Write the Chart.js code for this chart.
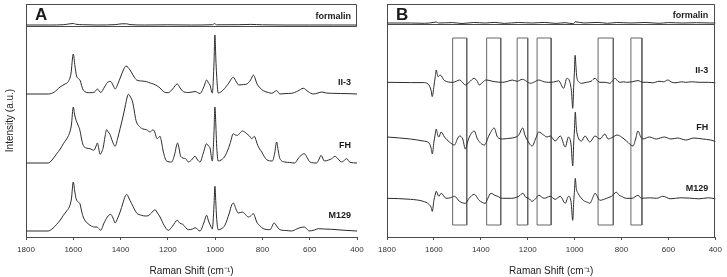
<!DOCTYPE html>
<html>
<head>
<meta charset="utf-8">
<script src="https://cdn.jsdelivr.net/npm/chart.js@4.4.0/dist/chart.umd.min.js"></script>
<style>
  html, body { margin: 0; padding: 0; background: #fff; }
  body { width: 727px; height: 277px; position: relative; overflow: hidden; }
  .panel { position: absolute; top: 0; height: 277px; }
  #wrap-a { left: 0; width: 370px; }
  #wrap-b { left: 360px; width: 367px; }
</style>
</head>
<body>
<div class="panel" id="wrap-a"><canvas id="chart-a" width="370" height="277"></canvas></div>
<div class="panel" id="wrap-b"><canvas id="chart-b" width="367" height="277"></canvas></div>
<script>
// --- Data: [Raman shift cm-1, intensity a.u.] ---

const X_TICKS = [1800, 1600, 1400, 1200, 1000, 800, 600, 400];
const SAMPLES = ['formalin', 'II-3', 'FH', 'M129'];

// panel A: raw spectra
const A_FORMALIN = [[1800,0],[1700,0],[1640,0.3],[1615,1.2],[1600,1.5],[1590,0.8],[1560,0.3],[1500,0],[1420,0.4],[1395,1.2],[1375,1.2],[1360,0.4],[1300,0],[1200,0.2],[1100,0],[1010,0.3],[1003,1.5],[995,0.2],[900,0.3],[850,0.6],[800,0.2],[700,0],[600,0],[500,0],[400,0]];

const A_II3 = [[1800,0],[1706,0],[1680,2],[1656,7],[1635,10],[1621,12.5],[1610,20],[1600,40],[1593,28],[1586,18],[1572,14],[1558,4],[1530,1.3],[1510,2],[1498,5],[1484,1.5],[1468,7],[1456,11.5],[1442,12.5],[1432,9],[1423,5],[1410,11],[1400,17],[1388,24],[1377,28],[1360,24],[1345,18],[1332,14],[1310,13],[1290,12.3],[1275,11],[1261,10],[1245,8],[1233,6],[1219,2.5],[1198,1.3],[1180,5],[1160,10],[1148,6],[1134,2.3],[1110,1.5],[1085,2.5],[1064,0.5],[1048,7],[1036,14],[1028,11],[1022,9],[1012,1],[1005,30],[1001,59],[997,35],[994,20],[987,1],[966,4],[945,10],[923,16.7],[910,12],[900,9],[880,9.5],[866,10],[850,14],[838,19],[830,15],[824,10.7],[810,6],[796,3.3],[775,1.5],[761,0.7],[740,3.3],[726,0],[700,0.5],[677,0.7],[650,3],[627,5.7],[606,2.3],[585,0],[565,1],[549,2],[530,1],[507,0.7],[470,0.5],[430,0.3],[400,0]];

const A_FH = [[1800,0],[1706,0],[1690,3],[1670,9.3],[1655,14],[1642,19.3],[1628,24],[1617,29.3],[1608,38],[1600,56],[1594,48],[1588,42.7],[1580,38],[1572,32.7],[1565,24],[1558,17.7],[1545,15],[1529,14.3],[1513,12.7],[1505,16],[1498,20],[1492,14],[1487,8.7],[1478,12],[1473,16],[1466,26],[1459,33.3],[1452,31],[1445,28.7],[1435,22],[1423,16.7],[1412,25],[1402,34.3],[1390,46],[1381,56],[1372,66],[1367,68.7],[1358,66],[1349,61],[1342,52],[1335,42.7],[1318,36],[1305,34],[1290,33.3],[1275,31],[1265,33],[1259,32.7],[1245,24.3],[1233,26.7],[1226,20],[1219,11],[1205,2],[1184,1],[1172,8],[1159,20],[1152,14],[1146,6.7],[1125,4.3],[1113,1],[1100,3],[1085,6.7],[1074,3],[1064,1],[1050,10],[1036,19.3],[1028,17],[1022,15.3],[1012,2],[1005,30],[1001,56],[997,38],[994,19.3],[987,2],[975,3],[961,6],[948,12],[937,19.3],[923,29.3],[915,28],[905,27.7],[895,30],[885,32],[875,31],[866,29.3],[855,27],[845,24.3],[834,26.7],[826,22],[820,17.7],[803,11],[782,3.3],[758,2],[748,10],[740,21],[733,12],[726,4.3],[705,1],[685,0.5],[663,0],[650,4],[641,6.7],[623,9.3],[610,5],[599,1],[571,0],[560,4],[552,7.7],[538,2],[520,3],[507,4.3],[493,6.7],[480,4],[465,1],[452,3],[444,4.3],[430,0.7],[400,0]];

const A_M129 = [[1800,0],[1706,0],[1690,2],[1670,6.7],[1655,11],[1642,15.7],[1628,20],[1617,24],[1608,32],[1600,49],[1594,40],[1588,32.3],[1580,29],[1572,27.3],[1565,20],[1558,14],[1545,9],[1529,5.7],[1510,4],[1501,4],[1490,2],[1484,0.7],[1470,8],[1456,14],[1442,16.7],[1432,13],[1423,8],[1412,13],[1402,19],[1390,28],[1380,35],[1374,36.7],[1365,33],[1353,27.3],[1342,22],[1332,18],[1311,15.7],[1295,15],[1283,15.3],[1270,18],[1254,21.3],[1244,18],[1233,14],[1216,5.7],[1198,0.7],[1180,5],[1160,10.7],[1150,8],[1137,6.7],[1113,1.3],[1095,2],[1085,3.3],[1064,0],[1048,8],[1036,15.7],[1028,10],[1017,4],[1012,2],[1005,25],[1001,44.7],[997,28],[994,14],[987,1.3],[975,2],[959,5.7],[940,18],[930,26],[923,28],[912,22],[902,18],[885,19],[870,16],[859,14],[850,15],[838,17.3],[830,13],[824,9],[810,5],[796,2.3],[768,1.3],[750,8],[740,5],[726,1.3],[700,0.5],[677,0],[655,2],[641,3.3],[623,4],[610,1.5],[603,0],[580,1],[564,2.3],[540,2],[507,1.7],[480,1.2],[451,0.7],[400,0]];

// panel B: second-derivative spectra
const B_FORMALIN = [[1800,0],[1700,0],[1640,-0.3],[1600,0.6],[1590,1],[1580,0],[1520,0.4],[1480,-0.5],[1430,0.5],[1380,0],[1340,0.6],[1300,-0.4],[1240,0.5],[1180,0],[1130,0.6],[1080,-0.4],[1040,0.3],[1005,-0.8],[998,1.2],[960,0],[900,0.6],[860,-0.3],[820,0.5],[760,0],[700,0.5],[640,-0.3],[600,0.4],[540,0],[480,0.3],[420,0],[400,0]];

const B_II3 = [[1800,0],[1700,-0.3],[1646,-0.3],[1625,-1.7],[1612,-8],[1607,-14.3],[1600,-4],[1594,6],[1590,12.3],[1583,5.7],[1573,7.3],[1555,1.7],[1519,0],[1505,1],[1491,2.3],[1478,0],[1466,-2.7],[1450,0],[1428,4],[1415,1],[1407,-2.7],[1390,0.5],[1378,2.3],[1343,0.7],[1308,0],[1285,1],[1266,2.3],[1245,1],[1223,3],[1205,1],[1188,-1],[1170,0.5],[1153,2.3],[1130,0.5],[1110,0],[1089,0.3],[1068,1.5],[1047,-6],[1033,4],[1020,0],[1013,-10],[1008,-26],[1004,-5],[1001,10],[998,27],[994,15],[991,5.7],[980,0],[970,-1],[950,0],[930,1],[913,4],[900,1],[892,0],[870,0],[850,-1],[838,1.5],[828,4],[815,1],[807,0],[790,0.5],[779,0],[755,0.5],[730,1.7],[709,0],[690,0],[667,-0.5],[640,1],[620,0.5],[603,2.3],[585,0],[568,-0.5],[545,0.5],[526,0],[500,0.5],[469,0],[430,0],[400,-0.5]];

const B_FH = [[1800,2],[1700,0],[1646,-2],[1621,-4],[1612,-9],[1607,-15],[1600,-3],[1595,4],[1590,10],[1584,4],[1579,2],[1569,7],[1555,2],[1534,-3],[1512,-6],[1500,0],[1491,3],[1477,0],[1466,-10],[1455,-2],[1449,2],[1428,8],[1414,0],[1385,-6],[1364,4],[1343,11],[1329,2],[1308,0],[1285,0.5],[1266,1],[1250,2],[1238,4],[1221,11],[1212,4],[1202,-1],[1181,-7],[1165,1],[1153,7],[1132,4],[1118,2],[1104,3],[1083,-2],[1061,3],[1040,-8],[1026,2],[1015,-6],[1008,-27],[1004,-5],[1001,8],[997,27],[993,12],[989,5],[970,-2],[956,3],[935,-3],[913,3],[892,0],[871,5],[857,0],[836,2],[819,4],[800,2],[779,-2],[751,-7],[740,0],[730,8],[718,2],[709,0],[681,2],[652,0],[617,2],[589,0],[561,1],[526,-1],[491,1],[455,0],[420,-1],[400,-2.5]];

const B_M129 = [[1800,0],[1700,-1],[1646,-3],[1621,-6],[1612,-9],[1607,-13],[1600,-2],[1595,3],[1590,7],[1579,2],[1569,5],[1548,0],[1530,0.5],[1512,2],[1491,-3],[1466,-5],[1450,0],[1428,4],[1407,-2],[1381,-5],[1370,0],[1357,5],[1340,3],[1329,2],[1308,0],[1270,0],[1238,2],[1221,5],[1208,1],[1196,0],[1181,-3],[1165,0],[1153,3],[1130,0],[1104,2],[1083,-1],[1061,2],[1040,-5],[1026,2],[1015,-4],[1008,-22],[1004,-4],[1001,6],[997,20],[993,10],[985,5],[963,-2],[945,-4],[935,-5],[920,2],[913,5],[892,-2],[864,0],[843,2],[822,6],[810,3],[800,2],[780,0],[755,0],[730,3],[715,0],[680,0.5],[650,0],[624,2],[590,-0.5],[550,0.5],[510,0.2],[470,-0.5],[430,0.5],[400,-0.5]];

// highlighted band regions in panel B [from, to] cm-1
const B_BANDS = [[1520, 1460], [1375, 1315], [1245, 1200], [1160, 1100], [900, 835], [760, 713]];

// --- Layout (a.u. units, y axis spans 0..233) ---

const Y_MAX = 233;
const PANELS = {
  a: {
    canvas: 'chart-a', letter: 'A', series: [A_FORMALIN, A_II3, A_FH, A_M129],
    offsets: [212, 143, 74, 6], labelY: [220.5, 154, 91, 21], labelX: 425,
    separator: 211, fullRight: false, yWidth: 26, padRight: 13, yTitle: true, bands: [],
  },
  b: {
    canvas: 'chart-b', letter: 'B', series: [B_FORMALIN, B_II3, B_FH, B_M129],
    offsets: [214, 154.7, 98, 38.7], labelY: [221.5, 166.5, 109.5, 48], labelX: 430,
    separator: 213.5, fullRight: true, yWidth: 27, padRight: 9, yTitle: false, bands: B_BANDS,
  },
};
const BAND_TOP = 199;
const BAND_BOTTOM = 12;

const INK = '#2b2b2b';
const AXIS = '#4a4a4a';
const FONT = "'Liberation Sans', Arial, sans-serif";

// --- Plugins: frame + text labels ---

const framePlugin = {
  id: 'frame',
  afterDatasetsDraw(chart, args, opts) {
    const { ctx, chartArea: area, scales: { y } } = chart;
    const sep = Math.round(y.getPixelForValue(opts.separator)) + 0.5;
    const top = area.top + 0.5;
    const right = Math.round(area.right) - 0.5;
    ctx.save();
    ctx.strokeStyle = AXIS;
    ctx.lineWidth = 1;
    ctx.beginPath();
    ctx.moveTo(area.left, top);
    ctx.lineTo(right, top);
    ctx.lineTo(right, opts.fullRight ? area.bottom : sep);
    ctx.moveTo(area.left, sep);
    ctx.lineTo(right, sep);
    ctx.stroke();
    ctx.restore();
  },
};

const labelPlugin = {
  id: 'labels',
  afterDraw(chart, args, opts) {
    const { ctx, scales: { x, y } } = chart;
    ctx.save();
    ctx.fillStyle = '#1a1a1a';
    ctx.textBaseline = 'middle';
    ctx.font = `bold 17px ${FONT}`;
    ctx.textAlign = 'left';
    ctx.fillText(opts.letter, x.getPixelForValue(1762), y.getPixelForValue(221.5));
    ctx.font = `bold 9px ${FONT}`;
    ctx.textAlign = 'right';
    SAMPLES.forEach((name, i) => {
      ctx.fillText(name, x.getPixelForValue(opts.labelX), y.getPixelForValue(opts.labelY[i]));
    });
    ctx.restore();
  },
};

// --- Charts ---

function makePanel(p) {
  const datasets = p.series.map((pts, i) => ({
    data: pts.map(([x, v]) => ({ x, y: v + p.offsets[i] })),
    borderColor: INK,
    borderWidth: 1,
    pointRadius: 0,
    cubicInterpolationMode: 'monotone',
    clip: false,
  }));
  for (const [from, to] of p.bands) {
    datasets.push({
      data: [
        { x: from, y: BAND_BOTTOM }, { x: from, y: BAND_TOP },
        { x: to, y: BAND_TOP }, { x: to, y: BAND_BOTTOM }, { x: from, y: BAND_BOTTOM },
      ],
      borderColor: '#666',
      borderWidth: 1,
      pointRadius: 0,
      tension: 0,
      clip: false,
    });
  }

  return new Chart(document.getElementById(p.canvas), {
    type: 'line',
    data: { datasets },
    options: {
      responsive: false,
      animation: false,
      layout: { padding: { top: 4, right: p.padRight, bottom: 0, left: 0 } },
      plugins: {
        legend: { display: false },
        tooltip: { enabled: false },
        frame: { separator: p.separator, fullRight: p.fullRight },
        labels: { letter: p.letter, labelX: p.labelX, labelY: p.labelY },
      },
      scales: {
        x: {
          type: 'linear', min: 400, max: 1800, reverse: true,
          afterBuildTicks: s => { s.ticks = X_TICKS.map(v => ({ value: v })); },
          afterFit: s => { s.height = 40; },
          ticks: {
            color: '#333', font: { family: FONT, size: 8 }, padding: 5, maxRotation: 0, autoSkip: false,
            callback: v => String(v),
          },
          grid: { display: true, drawOnChartArea: false, drawTicks: true, tickLength: 3, color: AXIS },
          border: { display: true, color: AXIS, width: 1 },
          title: { display: true, text: 'Raman Shift (cm⁻¹)', color: '#222', font: { family: FONT, size: 10 }, padding: { top: 4, bottom: 0 } },
        },
        y: {
          type: 'linear', min: 0, max: Y_MAX,
          afterFit: s => { s.width = p.yWidth; },
          ticks: { display: false },
          grid: { display: false },
          border: { display: true, color: AXIS, width: 1 },
          title: { display: p.yTitle, text: 'Intensity (a.u.)', color: '#222', font: { family: FONT, size: 10 }, padding: { top: 4, bottom: 0 } },
        },
      },
    },
    plugins: [framePlugin, labelPlugin],
  });
}

makePanel(PANELS.a);
makePanel(PANELS.b);
</script>
</body>
</html>
